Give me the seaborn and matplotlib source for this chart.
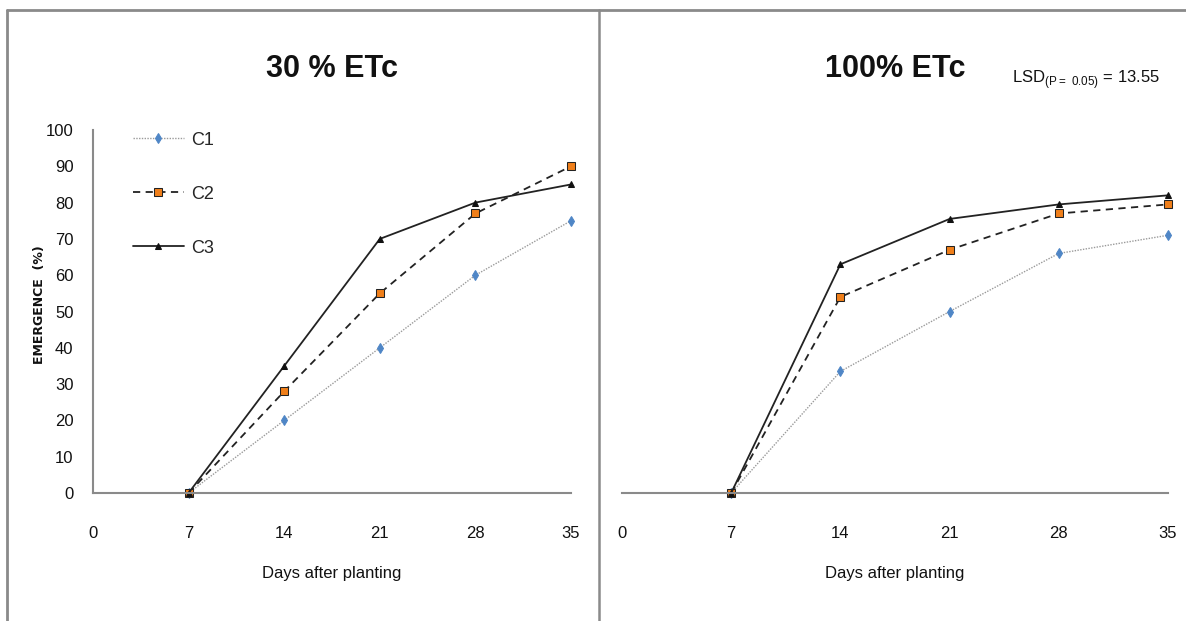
import matplotlib
matplotlib.use("Agg")
import matplotlib.pyplot as plt
import seaborn as sns
import pandas as pd
from matplotlib.lines import Line2D

days = [7, 14, 21, 28, 35]
series_names = ["C1", "C2", "C3"]
etc30_c1 = [0, 20, 40, 60, 75]
etc30_c2 = [0, 28, 55, 77, 90]
etc30_c3 = [0, 35, 70, 80, 85]
etc100_c1 = [0, 33.5, 50, 66, 71]
etc100_c2 = [0, 54, 67, 77, 79.5]
etc100_c3 = [0, 63, 75.5, 79.5, 82]
x_ticks = [0, 7, 14, 21, 28, 35]
y_ticks = [0, 10, 20, 30, 40, 50, 60, 70, 80, 90, 100]

sns.set_theme(style="white")
FONT = ["Liberation Sans", "DejaVu Sans"]
plt.rcParams["font.family"] = FONT

styles = {
    "C1": dict(color="#9a9a9a", linestyle=(0, (1, 1)), linewidth=1.0, marker="d",
               markersize=5.5, markerfacecolor="#4f86c6", markeredgecolor="#4f86c6"),
    "C2": dict(color="#222222", linestyle=(0, (4, 3)), linewidth=1.3, marker="s",
               markersize=6, markerfacecolor="#f07f1a", markeredgecolor="#222222"),
    "C3": dict(color="#222222", linestyle="-", linewidth=1.3, marker="^",
               markersize=5, markerfacecolor="#111111", markeredgecolor="#111111"),
}

fig = plt.figure(figsize=(11.86, 6.21), dpi=100)
W, H = 1186, 621

def fx(px):
    return px / W

def fy(py):
    return 1 - py / H

# outer frame and divider
fig.add_artist(Line2D([fx(7), 1.0], [fy(10), fy(10)], color="#8a8a8a", lw=2))
fig.add_artist(Line2D([fx(7), fx(7)], [fy(10), 0], color="#8a8a8a", lw=2))
fig.add_artist(Line2D([fx(599), fx(599)], [fy(10), 0], color="#8a8a8a", lw=1.8))

bottom = fy(493)
height = (493 - 130) / H
axL = fig.add_axes([fx(93), bottom, (571 - 93) / W, height])
axR = fig.add_axes([fx(622), bottom, (1168 - 622) / W, height])

panels = [
    (axL, [etc30_c1, etc30_c2, etc30_c3], "30 % ETc"),
    (axR, [etc100_c1, etc100_c2, etc100_c3], "100% ETc"),
]

for ax, vals, title in panels:
    for name, v in zip(series_names, vals):
        df = pd.DataFrame({"day": days, "val": v})
        sns.lineplot(data=df, x="day", y="val", ax=ax, label=name,
                     clip_on=False, **styles[name])
    ax.set_xlim(0, 35)
    ax.set_ylim(0, 100)
    ax.set_xticks(x_ticks)
    ax.set_yticks(y_ticks)
    for s in ["top", "right"]:
        ax.spines[s].set_visible(False)
    ax.spines["bottom"].set_color("#8a8a8a")
    ax.spines["bottom"].set_linewidth(1.5)
    ax.spines["left"].set_color("#8a8a8a")
    ax.spines["left"].set_linewidth(1.5)
    ax.tick_params(axis="x", length=0, pad=24, labelsize=12, labelcolor="#111111")
    ax.tick_params(axis="y", length=0, pad=14, labelsize=12, labelcolor="#111111")
    ax.set_xlabel("Days after planting", fontsize=12, labelpad=18, color="#111111")
    ax.set_ylabel("")
    ax.set_title(title, fontsize=22, fontweight="bold", pad=38, color="#111111")
    if ax.get_legend() is not None:
        ax.get_legend().remove()

axR.spines["left"].set_visible(False)
axR.set_yticklabels([])

fig.text(fx(40), fy(305), "EMERGENCE  (%)", fontsize=9, fontweight="bold",
         family=["DejaVu Sans"], rotation=90, ha="center", va="center",
         color="#111111")

handles, labels = axL.get_legend_handles_labels()
leg = axL.legend(handles, labels, loc="upper left", bbox_to_anchor=(0.05, 1.04),
                 frameon=False, fontsize=13, labelspacing=2.05, handlelength=2.8,
                 handletextpad=0.4)

fig.text(fx(1012), fy(80), r"LSD$_{\mathregular{(P=\ 0.05)}}$ = 13.55", fontsize=12,
         color="#111111", va="center", ha="left")

fig.savefig("out.png", dpi=100, facecolor="white")
